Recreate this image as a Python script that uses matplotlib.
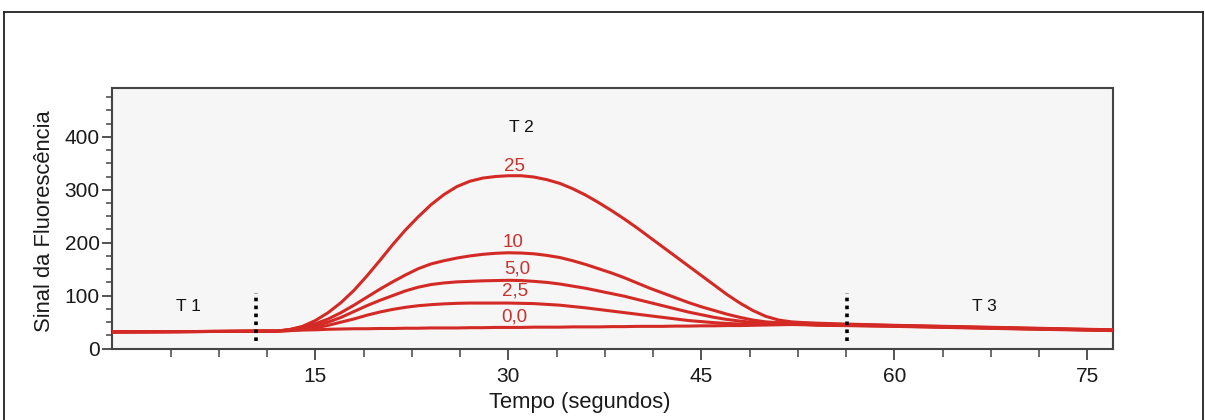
import numpy as np
import matplotlib
matplotlib.use("Agg")
from matplotlib import pyplot as plt
from matplotlib.lines import Line2D
from matplotlib.ticker import MultipleLocator, FixedLocator

plt.rcParams['font.family'] = ['Liberation Sans', 'DejaVu Sans']

# ---- dati ----
t_left = [-1, 4, 8, 11]
y_left = [31.5, 32, 32.5, 33]

t_mid = list(range(12, 53))          # 12 ... 52 s
t_right = [53, 54, 56, 60, 65, 70, 77]

c25 = [33, 36, 42, 53, 68, 87, 110, 137, 166, 196, 224, 249, 272, 291, 306, 316,
       322, 325, 326.5, 326.5, 324, 319, 312, 302, 290, 276, 261, 245, 228, 210, 192,
       174, 156, 138, 120, 102, 86, 72, 61, 54, 50.5]
c10 = [33, 36, 40, 47, 56, 68, 82, 97, 112, 126, 139, 151, 160, 166, 171, 175,
       178, 180, 181, 180.5, 179, 176, 172, 166, 159, 151, 143, 134, 124, 114, 105,
       96, 87, 79, 72, 65, 59, 54, 50.5, 49, 48.5]
c50 = [33, 35, 38, 43, 50, 59, 70, 81, 91, 100, 109, 116, 121, 124, 126, 127,
       128, 128.5, 129, 128.5, 127, 125, 122, 118, 114, 109, 104, 99, 93, 87, 81,
       75, 69, 64, 59, 55, 52, 49.5, 48, 47, 46.5]
c25b = [33, 34, 36, 39, 44, 50, 56, 63, 69, 74, 78, 81, 83, 84.5, 85.5, 86,
        86, 86, 86, 85.5, 85, 83.5, 82, 79.5, 77, 74, 71, 68, 65, 62, 59,
        56, 53, 51, 49, 47.5, 46.5, 46, 46, 46, 46]
c00 = [33, 34, 35, 35.5, 36.5, 37, 37.5, 37.5, 38, 38, 38.5, 38.5, 39, 39, 39, 39.5,
       39.5, 40, 40, 40, 40.5, 40.5, 40.5, 41, 41, 41, 41.5, 41.5, 42, 42, 42,
       42.5, 42.5, 43, 43, 43.5, 43.5, 44, 44.5, 45, 45.5]

r25 = [49, 48, 46.5, 44, 41.5, 39, 35.5]
r10 = [48, 47, 45.5, 43.5, 41, 38.5, 35]
r50 = [47, 46, 45, 43, 40.5, 38, 34.5]
r25b = [46, 45, 44, 42.5, 40, 37.5, 34.5]
r00 = [45, 44, 43.5, 42, 39.5, 37, 34]

curve_labels = ['25', '10', '5,0', '2,5', '0,0']
curve_mid = [c25, c10, c50, c25b, c00]
curve_right = [r25, r10, r50, r25b, r00]
label_pos = [(30.5, 344), (30.4, 200), (30.7, 150), (30.5, 109), (30.5, 60)]

t_sep = [10.4, 56.3]
fasi = ['T 1', 'T 2', 'T 3']
fasi_pos = [(5.1, 80), (31.0, 418), (67.0, 80)]

red = '#d42a25'
red_txt = '#c8322d'

# ---- figura ----
fig = plt.figure(figsize=(12.05, 4.2), dpi=100)
ax = fig.add_axes([0.093, 0.170, 0.8307, 0.6215])
ax.set_facecolor('#f6f6f6')

for mid, right in zip(curve_mid, curve_right):
    t = t_left + t_mid + t_right
    y = y_left + mid + right
    ax.plot(t, y, '-', color=red, lw=2.2, solid_joinstyle='round', zorder=3)

for lab, (xx, yy) in zip(curve_labels, label_pos):
    ax.text(xx, yy, lab, color=red_txt, fontsize=13.5, ha='center', va='center', zorder=4)

for xs in t_sep:
    ax.plot([xs, xs], [14, 105], ls=(0, (1, 1.2)), color='black', lw=2.6, zorder=5)

for lab, (xx, yy) in zip(fasi, fasi_pos):
    ax.text(xx, yy, lab, color='#111111', fontsize=12.5, ha='center', va='center')

ax.set_xlim(-0.8, 77)
ax.set_ylim(0, 493)
ax.xaxis.set_major_locator(FixedLocator([15, 30, 45, 60, 75]))
ax.xaxis.set_minor_locator(FixedLocator([3.75, 7.5, 11.25, 18.75, 22.5, 26.25,
                                         33.75, 37.5, 41.25, 48.75, 52.5, 56.25,
                                         63.75, 67.5, 71.25]))
ax.yaxis.set_major_locator(MultipleLocator(100))
ax.yaxis.set_minor_locator(MultipleLocator(25))

ax.tick_params(axis='both', which='major', direction='out', length=7, width=1.3,
               color='#444444', labelsize=15, labelcolor='#1a1a1a', pad=2)
ax.tick_params(axis='both', which='minor', direction='out', length=4, width=1.1,
               color='#444444')
ax.tick_params(axis='x', which='major', length=8, pad=5)
ax.tick_params(axis='x', which='minor', length=6)
for s in ax.spines.values():
    s.set_color('#444444')
    s.set_linewidth(1.5)

ax.set_xlabel('Tempo (segundos)', fontsize=15.8, color='#1a1a1a')
ax.xaxis.set_label_coords(0.4675, -0.165)
ax.set_ylabel('Sinal da Fluorescência', fontsize=15.8, color='#1a1a1a')
ax.yaxis.set_label_coords(-0.057, 0.49)

# cornice esterna
kw = dict(color='#222222', lw=1.3, transform=fig.transFigure)
fig.add_artist(Line2D([4 / 1205, 1203 / 1205], [1 - 12 / 420, 1 - 12 / 420], **kw))
fig.add_artist(Line2D([4 / 1205, 4 / 1205], [1 - 12 / 420, -0.05], **kw))
fig.add_artist(Line2D([1203 / 1205, 1203 / 1205], [1 - 12 / 420, -0.05], **kw))

fig.savefig('out.png', dpi=100)
